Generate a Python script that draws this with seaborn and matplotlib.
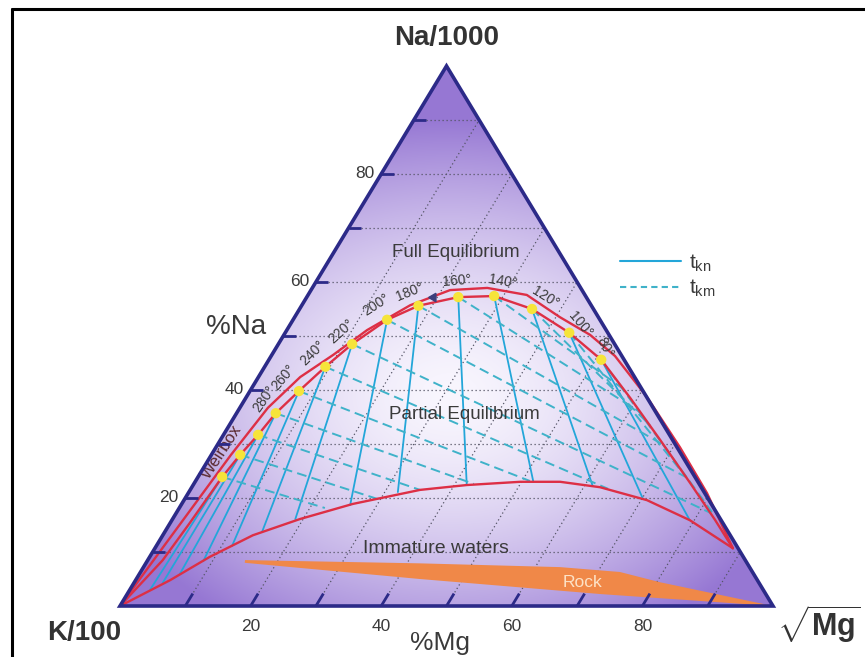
import numpy as np
import pandas as pd
import matplotlib
matplotlib.use("Agg")
import matplotlib.pyplot as plt
import seaborn as sns
from matplotlib.patches import Polygon
from matplotlib.lines import Line2D

# ---------------- data (ternary: %Na, %Mg ; %K = 100 - Na - Mg) ----------------
temps = [340, 320, 300, 280, 260, 240, 220, 200, 180, 160, 140, 120, 100, 80]
labeled_temps = [280, 260, 240, 220, 200, 180, 160, 140, 120, 100, 80]

# full-equilibrium points (yellow dots)
dot_na = [23.9, 28.0, 31.7, 35.7, 39.8, 44.3, 48.5, 53.0, 55.6, 57.2, 57.4, 55.0, 50.6, 45.6]
dot_mg = [3.7, 4.4, 5.3, 6.0, 7.5, 9.3, 11.3, 14.4, 17.9, 23.2, 28.6, 35.6, 43.5, 50.9]

# full equilibrium curve continuation
fe_left_na = [0.0, 8.5, 15.4]
fe_left_mg = [0.0, 2.3, 3.0]
fe_right_na = [38.5, 30.7, 22.8, 15.9, 10.7]
fe_right_mg = [58.9, 67.4, 75.9, 83.2, 88.5]

# outer red curve
outer_na = [0, 11.3, 19.6, 28.0, 36.7, 42.4, 46.5, 51.1, 55.7, 58.5, 58.9, 57.6, 53.5, 50.2, 46.3, 38.7, 29.4, 20.9, 10.7]
outer_mg = [0, 1.2, 2.1, 3.0, 4.3, 6.4, 9.4, 12.3, 16.6, 21.3, 26.8, 33.5, 40.6, 46.9, 52.65, 61.35, 71.05, 79.45, 88.5]

# immature-water boundary
imm_na = [0, 4.8, 9.1, 13.1, 16.1, 18.9, 21.5, 22.4, 23.0, 23.0, 22.0, 19.6, 15.9, 10.7]
imm_mg = [0, 5.3, 9.2, 13.8, 19.5, 26.2, 35.2, 41.9, 49.8, 55.9, 62.5, 70.9, 79.3, 88.5]

# t_kn isotherm end points (solid)
tkn_end_na = [3.0, 4.3, 5.9, 8.3, 11.1, 13.7, 16.1, 18.7, 21.1, 22.4, 23.0, 22.2, 19.8, 15.9]
tkn_end_mg = [3.1, 4.4, 6.2, 8.6, 11.6, 14.9, 18.8, 25.9, 32.0, 41.9, 51.8, 61.3, 70.2, 79.3]

# t_km isotherm end points (dashed)
tkm_end_na = [18.15, 19.8, 21.5, 22.6, 23.15, 21.7, 17.2, 23.7, 30.0, 35.9, 40.0, 33.5, 25.2, 17.4]
tkm_end_mg = [22.3, 29.6, 35.2, 42.9, 51.2, 63.9, 81.9, 75.1, 68.0, 61.7, 57.3, 64.4, 73.2, 81.95]

# rock field
rock_na = [8.5, 7.9, 7.2, 6.3, 4.4, 0.0, 2.2, 5.0, 8.0]
rock_mg = [14.9, 41.9, 63.8, 73.4, 80.5, 100.0, 72.6, 43.4, 15.1]

grid_values = [10, 20, 30, 40, 50, 60, 70, 80, 90]
tick_labels = [20, 40, 60, 80]


def tern(na, mg):
    na = np.asarray(na, dtype=float)
    mg = np.asarray(mg, dtype=float)
    return mg + na / 2.0, na


def pt(na, mg):
    return (float(mg + na / 2.0), float(na))


# ---------------- styling ----------------
sns.set_theme(style="white")
plt.rcParams["font.family"] = ["Liberation Sans", "DejaVu Sans"]
plt.rcParams["mathtext.fontset"] = "custom"
plt.rcParams["mathtext.rm"] = "Liberation Sans"
plt.rcParams["mathtext.it"] = "Liberation Sans:italic"
plt.rcParams["mathtext.bf"] = "Liberation Sans:bold"

RED = "#dd2f45"
SOLID = "#23a6d9"
DASH = "#3fb2c9"
NAVY = "#2c2a88"
TXT = "#3a3a3a"

fig = plt.figure(figsize=(8.65, 6.57), dpi=100)
ax = fig.add_axes([0, 0, 1, 1])
ax.set_xlim(-18.377, 114.09)
ax.set_ylim(-9.444, 112.22)
ax.axis("off")

# frame
fig.add_artist(Line2D([12 / 865, 12 / 865], [0, 1 - 9 / 657], transform=fig.transFigure, color="black", lw=2.2))
fig.add_artist(Line2D([12 / 865, 1], [1 - 9 / 657, 1 - 9 / 657], transform=fig.transFigure, color="black", lw=2.2))

# triangle + gradient
tri_x, tri_y = tern([0, 0, 100], [0, 100, 0])
tri = Polygon(np.column_stack([tri_x, tri_y]), closed=True, facecolor="none", edgecolor="none")
ax.add_patch(tri)
gx = np.linspace(0, 100, 400)
gy = np.linspace(0, 100, 400)
GX, GY = np.meshgrid(gx, gy)
PX = 120 + 6.53 * GX
PY = 606 - 5.4 * GY
d = np.sqrt(((PX - 450) / 370.0) ** 2 + ((PY - 395) / 275.0) ** 2)
t = np.clip(d, 0, 1) ** 1.6
light = np.array([0.975, 0.965, 0.995])
dark = np.array([0.59, 0.47, 0.83])
img = light[None, None, :] + (dark - light)[None, None, :] * t[:, :, None]
im = ax.imshow(img, extent=[0, 100, 0, 100], origin="lower", aspect="auto", zorder=0, interpolation="bilinear")
im.set_clip_path(tri)

# dotted grid
for v in grid_values:
    x, y = tern([v, v], [0, 100 - v])
    ax.plot(x, y, color="#555566", lw=0.9, ls=(0, (1, 2.2)), zorder=1)
    x, y = tern([0, 100 - v], [v, v])
    ax.plot(x, y, color="#555566", lw=0.9, ls=(0, (1, 2.2)), zorder=1)
    # ticks
    x, y = tern([v, v], [0, 1.9])
    ax.plot(x, y, color=NAVY, lw=2.0, zorder=8, solid_capstyle="butt")
    x, y = tern([0, 2.3], [v, v])
    ax.plot(x, y, color=NAVY, lw=2.0, zorder=8, solid_capstyle="butt")

# rock field
rx, ry = tern(rock_na, rock_mg)
ax.fill(rx, ry, color="#f08848", zorder=2, lw=0)

# red curves
inner_na = fe_left_na + dot_na + fe_right_na
inner_mg = fe_left_mg + dot_mg + fe_right_mg
rows = []
for name, na, mg in [("inner", inner_na, inner_mg), ("outer", outer_na, outer_mg), ("imm", imm_na, imm_mg)]:
    x, y = tern(na, mg)
    for i, (a, b) in enumerate(zip(x, y)):
        rows.append({"curve": name, "x": a, "y": b, "i": i})
red_df = pd.DataFrame(rows)
sns.lineplot(data=red_df, x="x", y="y", units="curve", estimator=None, sort=False,
             color=RED, lw=1.7, ax=ax, legend=False, zorder=5)

# isotherm lines
rows_kn, rows_km = [], []
for k, T in enumerate(temps):
    x, y = tern([dot_na[k], tkn_end_na[k]], [dot_mg[k], tkn_end_mg[k]])
    for a, b in zip(x, y):
        rows_kn.append({"T": T, "x": a, "y": b})
    x, y = tern([dot_na[k], tkm_end_na[k]], [dot_mg[k], tkm_end_mg[k]])
    for a, b in zip(x, y):
        rows_km.append({"T": T, "x": a, "y": b})
sns.lineplot(data=pd.DataFrame(rows_kn), x="x", y="y", units="T", estimator=None, sort=False,
             color=SOLID, lw=1.3, ax=ax, legend=False, zorder=3)
sns.lineplot(data=pd.DataFrame(rows_km), x="x", y="y", units="T", estimator=None, sort=False,
             color=DASH, lw=1.4, ls=(0, (5, 2.7)), ax=ax, legend=False, zorder=3)

# dots
dx, dy = tern(dot_na, dot_mg)
sns.scatterplot(x=dx, y=dy, color="#f6e43a", s=55, edgecolor="none", zorder=6, ax=ax, legend=False)

# small arrow marker
ax.plot(*tern([57.2], [19.3]), marker=(3, 0, -30), color="#3c3f7c", ms=7, zorder=6)

# temperature labels
label_offsets = {280: (-11, 14, 55), 260: (-15, 14, 50), 240: (-13, 14, 45), 220: (-11, 13, 42),
                 200: (-11, 15, 33), 180: (-9, 14, 22), 160: (-1, 16, 5), 140: (9, 14, -10),
                 120: (13, 12, -32), 100: (11, 8, -50), 80: (4, 12, -62)}
for T in labeled_temps:
    k = temps.index(T)
    ox, oy, rot = label_offsets[T]
    ax.annotate(f"{T}°", (float(dx[k]), float(dy[k])), xytext=(ox * 0.72, oy * 0.72), textcoords="offset points",
                ha="center", va="center", rotation=rot, fontsize=10, color=TXT, zorder=7)

# triangle outline
ax.add_patch(Polygon(np.column_stack([tri_x, tri_y]), closed=True, fill=False, edgecolor=NAVY,
                     lw=2.6, joinstyle="miter", zorder=9))

# tick labels
for v in tick_labels:
    ax.annotate(str(v), pt(v, 0), xytext=(-5, 0), textcoords="offset points",
                ha="right", va="center", fontsize=12.5, color=TXT)
    ax.annotate(str(v), pt(0, v), xytext=(0, -15), textcoords="offset points",
                ha="center", va="center", fontsize=12.5, color=TXT)

# corner and axis titles
ax.annotate("Na/1000", pt(100, 0), xytext=(0, 20), textcoords="offset points",
            ha="center", va="center", fontsize=20, fontweight="bold", color="#333333")
ax.annotate("K/100", pt(0, 0), xytext=(-26, -19.5), textcoords="offset points",
            ha="center", va="center", fontsize=20, fontweight="bold", color="#333333")
ax.annotate(r"$\sqrt{\mathbf{Mg}}$", pt(0, 100), xytext=(33, -13), textcoords="offset points",
            ha="center", va="center", fontsize=22, color="#333333")
ax.text(17.76, 51.67, "%Na", ha="center", va="center", fontsize=20, color=TXT)
ax.text(49.0, -6.9, "%Mg", ha="center", va="center", fontsize=19, color=TXT)

# field labels
ax.text(51.45, 65.37, "Full Equilibrium", ha="center", va="center", fontsize=13.5, color=TXT, zorder=7)
ax.text(52.68, 35.4, "Partial Equilibrium", ha="center", va="center", fontsize=13.5, color=TXT, zorder=7)
ax.text(48.39, 10.56, "Immature waters", ha="center", va="center", fontsize=14, color=TXT, zorder=7)
ax.text(70.9, 4.44, "Rock", ha="center", va="center", fontsize=12.5, color="#fde2c6", zorder=7)
ax.text(15.6, 28.5, "Weirbox", ha="center", va="center", fontsize=12, color="#5b2a30", rotation=57, zorder=7)

# legend
handles = [Line2D([], [], color=SOLID, lw=1.5),
           Line2D([], [], color=DASH, lw=1.5, ls=(0, (3, 2)))]
ax.legend(handles, [r"$\mathrm{t}_{\mathrm{kn}}$", r"$\mathrm{t}_{\mathrm{km}}$"], frameon=False,
          loc="upper left", bbox_to_anchor=(610 / 865, 1 - 242 / 657), bbox_transform=fig.transFigure,
          fontsize=15, handlelength=2.9, handletextpad=0.4, labelspacing=0.2, borderpad=0,
          labelcolor=TXT)

fig.savefig("out.png", dpi=100)
